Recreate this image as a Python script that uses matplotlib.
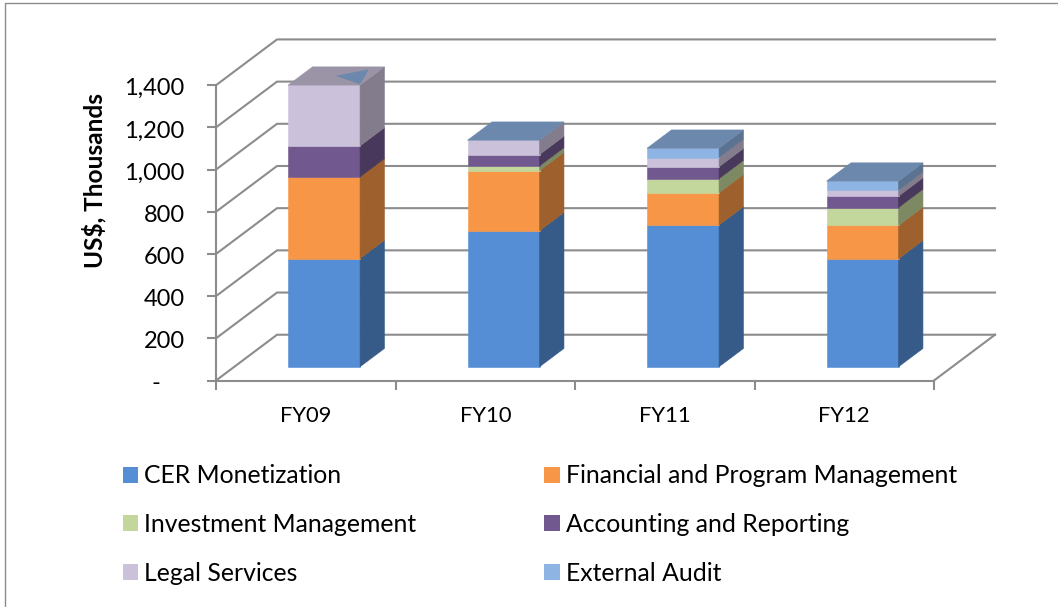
import matplotlib
matplotlib.use('Agg')
import matplotlib.pyplot as plt
import numpy as np
from matplotlib.lines import Line2D
from matplotlib.patches import Patch, Polygon
from matplotlib.transforms import ScaledTranslation

years = ['FY09', 'FY10', 'FY11', 'FY12']
series_names = ['CER Monetization', 'Financial and Program Management', 'Investment Management',
                'Accounting and Reporting', 'Legal Services', 'External Audit']
cer = [513, 645, 672, 512]
financial = [387, 285, 153, 158]
investment = [0, 22, 67, 85]
accounting = [147, 54, 56, 54]
legal = [288, 68, 44, 28]
audit = [0, 0, 44, 43]
yticks = [0, 200, 400, 600, 800, 1000, 1200, 1400]

colors = ['#558ED5', '#F79646', '#C3D69B', '#71588F', '#CCC1DA', '#8EB4E3']

W, H = 1058, 607
GREY = '#8C8C8C'
FONT = 'Lato'

# depth of the fake 3d box, in data units
wall_dx = 0.34
wall_dy = 217
bar_depth = 0.4
bar_width = 0.401


def shade(color, f):
    return tuple(c * f for c in matplotlib.colors.to_rgb(color))


fig = plt.figure(figsize=(W / 100, H / 100), dpi=100)
# outer chart frame, only left and top show up
fig.add_artist(Line2D([4.5 / W, 4.5 / W, 1], [0, 1 - 2.5 / H, 1 - 2.5 / H], color=GREY, lw=1,
                      transform=fig.transFigure))

ax = fig.add_axes([216 / W, 1 - 380.5 / H, 718 / W, 295.3 / H])
ax.set_xlim(0, 4)
ax.set_ylim(0, 1400)
for s in ['top', 'right']:
    ax.spines[s].set_visible(False)
for s in ['left', 'bottom']:
    ax.spines[s].set_color(GREY)
    ax.spines[s].set_linewidth(1.5)

# walls and floor
for v in yticks:
    ax.plot([0, wall_dx, 4 + wall_dx], [v, v + wall_dy, v + wall_dy], color=GREY, lw=1.5,
            clip_on=False, zorder=1, solid_joinstyle='miter')
ax.plot([4, 4 + wall_dx], [0, wall_dy], color=GREY, lw=1.5, clip_on=False, zorder=1)

# bars
stack = np.array([cer, financial, investment, accounting, legal, audit], dtype=float)
bottoms = np.vstack([np.zeros(4), np.cumsum(stack, axis=0)])
off_x = wall_dx * (1 - bar_depth) / 2
off_y = wall_dy * (1 - bar_depth) / 2
dx = wall_dx * bar_depth
dy = wall_dy * bar_depth


def face(pts, color, z):
    ax.add_patch(Polygon(pts, closed=True, facecolor=color, edgecolor=color, linewidth=0.4,
                         clip_on=False, zorder=z))


for i in range(len(years)):
    x0 = i + 0.5 + off_x - bar_width / 2
    x1 = x0 + bar_width
    for k, c in enumerate(colors):
        y0 = bottoms[k][i] + off_y
        y1 = bottoms[k + 1][i] + off_y
        if y1 <= y0:
            continue
        face([(x0, y0), (x1, y0), (x1, y1), (x0, y1)], c, 3)
        face([(x1, y0), (x1 + dx, y0 + dy), (x1 + dx, y1 + dy), (x1, y1)], shade(c, 0.64), 3)
    top = bottoms[-1][i] + off_y
    # FY09 has no audit layer, so its lid is legal with a sliver of audit showing through
    lid = colors[4] if audit[i] == 0 and investment[i] == 0 else colors[5]
    face([(x0, top), (x1, top), (x1 + dx, top + dy), (x0 + dx, top + dy)], shade(lid, 0.76), 4)
    if lid == colors[4]:
        sliver = [(u * bar_width + v * dx + x0, top + v * dy)
                  for u, v in [(0.50, 0.51), (0.83, 0.84), (0.976, 0.07)]]
        face(sliver, shade(colors[5], 0.76), 5)

# axes ticks
ax.set_yticks(yticks)
ax.set_yticklabels(['-    ' if v == 0 else f'{v:,}' for v in yticks], family=FONT, fontsize=17)
ax.tick_params(axis='y', length=6.5, width=1.5, color=GREY, pad=16)
nudge = ScaledTranslation(0, -1.5 / 100, fig.dpi_scale_trans)
for label in ax.get_yticklabels():
    label.set_transform(label.get_transform() + nudge)
ax.set_xticks(range(5))
ax.set_xticklabels([])
ax.set_xticks(np.arange(4) + 0.5, minor=True)
ax.set_xticklabels(years, minor=True, family=FONT, fontsize=15.8)
ax.tick_params(axis='x', which='major', length=6.5, width=1.5, color=GREY)
ax.tick_params(axis='x', which='minor', length=0, pad=18)

fig.text(94 / W, 1 - 180 / H, 'US$, Thousands', rotation=90, ha='center', va='center',
         family=FONT, fontweight='bold', fontsize=17.6)

# legend, filled column by column
order = [0, 2, 4, 1, 3, 5]
handles = [Patch(facecolor=colors[k], edgecolor='none') for k in order]
labels = [series_names[k] for k in order]
fig.legend(handles, labels, ncol=2, loc='upper left', bbox_to_anchor=(115.6 / W, 1 - 457 / H),
           frameon=False, prop={'family': FONT, 'size': 17.8}, handlelength=0.61, handleheight=0.61,
           handletextpad=0.25, labelspacing=1.04, columnspacing=5.18, borderaxespad=0, borderpad=0.3)

plt.savefig('out.png', dpi=100)
plt.close()
